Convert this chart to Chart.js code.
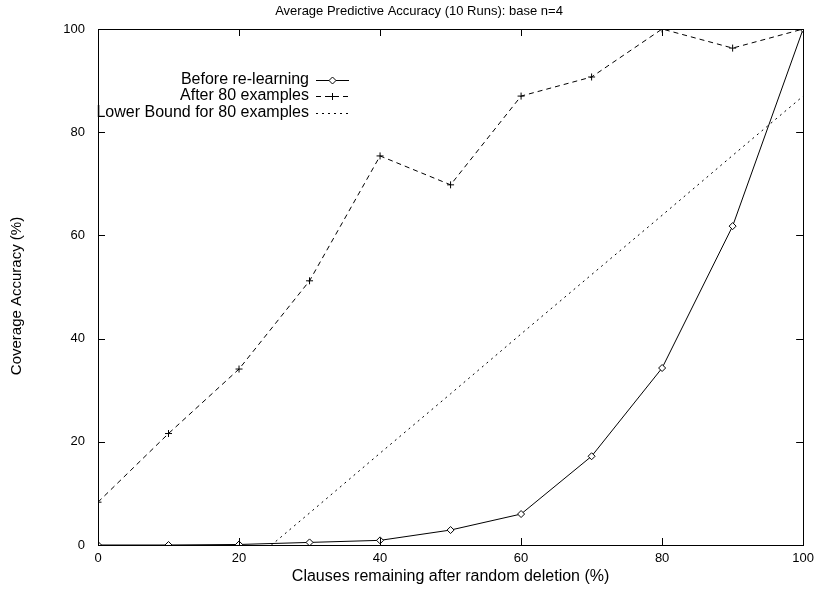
<!DOCTYPE html>
<html>
<head>
<meta charset="utf-8">
<script src="https://cdn.jsdelivr.net/npm/chart.js@4.4.1/dist/chart.umd.min.js"></script>
<style>
  html, body { margin: 0; padding: 0; background: #fff; }
  canvas { display: block; }
</style>
</head>
<body>
<canvas id="c" width="820" height="591"></canvas>
<script>
// ---- data ----
const xValues = [0, 10, 20, 30, 40, 50, 60, 70, 80, 90, 100];
const beforeRelearning = [0, 0, 0.1, 0.5, 0.9, 2.9, 6.0, 17.2, 34.3, 61.8, 100];
const after80 = [8.3, 21.6, 34.1, 51.2, 75.4, 69.8, 87.0, 90.7, 100, 96.3, 100];
const lowerBoundX = [20, 30, 40, 50, 60, 70, 80, 90, 100];
const lowerBound80 = [-5.3, 6.2, 17.8, 29.3, 40.9, 52.4, 63.9, 75.5, 87.0];
const xTicks = [0, 20, 40, 60, 80, 100];
const yTicks = [0, 20, 40, 60, 80, 100];
const seriesNames = ['Before re-learning', 'After 80 examples', 'Lower Bound for 80 examples'];
const titleText = 'Average Predictive Accuracy (10 Runs): base n=4';
const xTitle = 'Clauses remaining after random deletion (%)';
const yTitle = 'Coverage Accuracy (%)';

const FONT = '"Liberation Sans", Arial, Helvetica, sans-serif';
const FSIZE = 13;

const toPts = (xs, ys) => xs.map((x, i) => ({ x: x, y: ys[i] }));

const decorPlugin = {
  id: 'decor',
  afterDraw(chart) {
    const ctx = chart.ctx;
    const a = chart.chartArea;
    const xs = chart.scales.x, ys = chart.scales.y;
    ctx.save();
    // frame
    ctx.strokeStyle = '#000';
    ctx.lineWidth = 1;
    ctx.setLineDash([]);
    ctx.strokeRect(Math.round(a.left) + 0.5, Math.round(a.top) + 0.5,
                   Math.round(a.right - a.left), Math.round(a.bottom - a.top));
    // inward ticks, mirrored
    const tl = 7;
    ctx.beginPath();
    xTicks.forEach(v => {
      const px = Math.round(xs.getPixelForValue(v)) + 0.5;
      ctx.moveTo(px, a.bottom); ctx.lineTo(px, a.bottom - tl);
      ctx.moveTo(px, a.top); ctx.lineTo(px, a.top + tl);
    });
    yTicks.forEach(v => {
      const py = Math.round(ys.getPixelForValue(v)) + 0.5;
      ctx.moveTo(a.left, py); ctx.lineTo(a.left + tl, py);
      ctx.moveTo(a.right, py); ctx.lineTo(a.right - tl, py);
    });
    ctx.stroke();
    // titles
    ctx.fillStyle = '#000';
    ctx.textAlign = 'center';
    ctx.textBaseline = 'middle';
    ctx.font = FSIZE + 'px ' + FONT;
    ctx.fillText(titleText, 419, 11);
    ctx.font = '16px ' + FONT;
    ctx.fillText(xTitle, (a.left + a.right) / 2, 577);
    ctx.save();
    ctx.translate(17, 296);
    ctx.rotate(-Math.PI / 2);
    ctx.font = '15px ' + FONT;
    ctx.fillText(yTitle, 0, 0);
    ctx.restore();
    // legend (text left of sample, gnuplot style)
    const textRight = 309, sx0 = 316, sx1 = 349;
    const rowY = [80, 96, 113];
    ctx.font = '16px ' + FONT;
    chart.data.datasets.forEach((ds, i) => {
      const y = rowY[i];
      ctx.textAlign = 'right';
      ctx.fillStyle = '#000';
      ctx.fillText(ds.label, textRight, y);
      ctx.beginPath();
      ctx.setLineDash(ds.borderDash || []);
      ctx.strokeStyle = ds.borderColor;
      ctx.lineWidth = ds.borderWidth;
      ctx.moveTo(sx0, y + 0.5); ctx.lineTo(sx1, y + 0.5);
      ctx.stroke();
      ctx.setLineDash([]);
      if (ds.pointRadius > 0) {
        ctx.fillStyle = ds.pointBackgroundColor;
        ctx.strokeStyle = ds.pointBorderColor;
        ctx.lineWidth = 1;
        Chart.helpers.drawPoint(ctx, { pointStyle: ds.pointStyle, radius: ds.pointRadius, borderWidth: 1, rotation: 0 },
                                (sx0 + sx1) / 2, y + 0.5);
      }
    });
    ctx.restore();
  }
};

new Chart(document.getElementById('c'), {
  type: 'line',
  data: {
    datasets: [
      {
        label: seriesNames[0],
        data: toPts(xValues, beforeRelearning),
        borderColor: '#000', borderWidth: 1, borderDash: [],
        pointStyle: 'rectRot', pointRadius: 3.5,
        pointBackgroundColor: '#fff', pointBorderColor: '#000', pointBorderWidth: 1,
        tension: 0, fill: false
      },
      {
        label: seriesNames[1],
        data: toPts(xValues, after80),
        borderColor: '#000', borderWidth: 1, borderDash: [5, 4],
        pointStyle: 'cross', pointRadius: 3.5,
        pointBackgroundColor: '#000', pointBorderColor: '#000', pointBorderWidth: 1,
        tension: 0, fill: false
      },
      {
        label: seriesNames[2],
        data: toPts(lowerBoundX, lowerBound80),
        borderColor: '#000', borderWidth: 1, borderDash: [2, 4],
        pointRadius: 0,
        pointBackgroundColor: '#000', pointBorderColor: '#000',
        tension: 0, fill: false
      }
    ]
  },
  options: {
    responsive: false,
    animation: false,
    events: [],
    layout: { padding: { left: 0, right: 11, top: 29, bottom: 0 } },
    plugins: { legend: { display: false }, title: { display: false }, tooltip: { enabled: false } },
    scales: {
      x: {
        type: 'linear', min: 0, max: 100,
        grid: { display: false, drawTicks: false },
        border: { display: false },
        afterFit: s => { s.height = 46; },
        afterBuildTicks: s => { s.ticks = xTicks.map(v => ({ value: v })); },
        ticks: { color: '#000', font: { family: FONT, size: FSIZE }, padding: 6, maxRotation: 0,
                 callback: v => String(v) }
      },
      y: {
        type: 'linear', min: 0, max: 100,
        grid: { display: false, drawTicks: false },
        border: { display: false },
        afterFit: s => { s.width = 98; },
        afterBuildTicks: s => { s.ticks = yTicks.map(v => ({ value: v })); },
        ticks: { color: '#000', font: { family: FONT, size: FSIZE }, padding: 13,
                 callback: v => String(v) }
      }
    }
  },
  plugins: [decorPlugin]
});
</script>
</body>
</html>
